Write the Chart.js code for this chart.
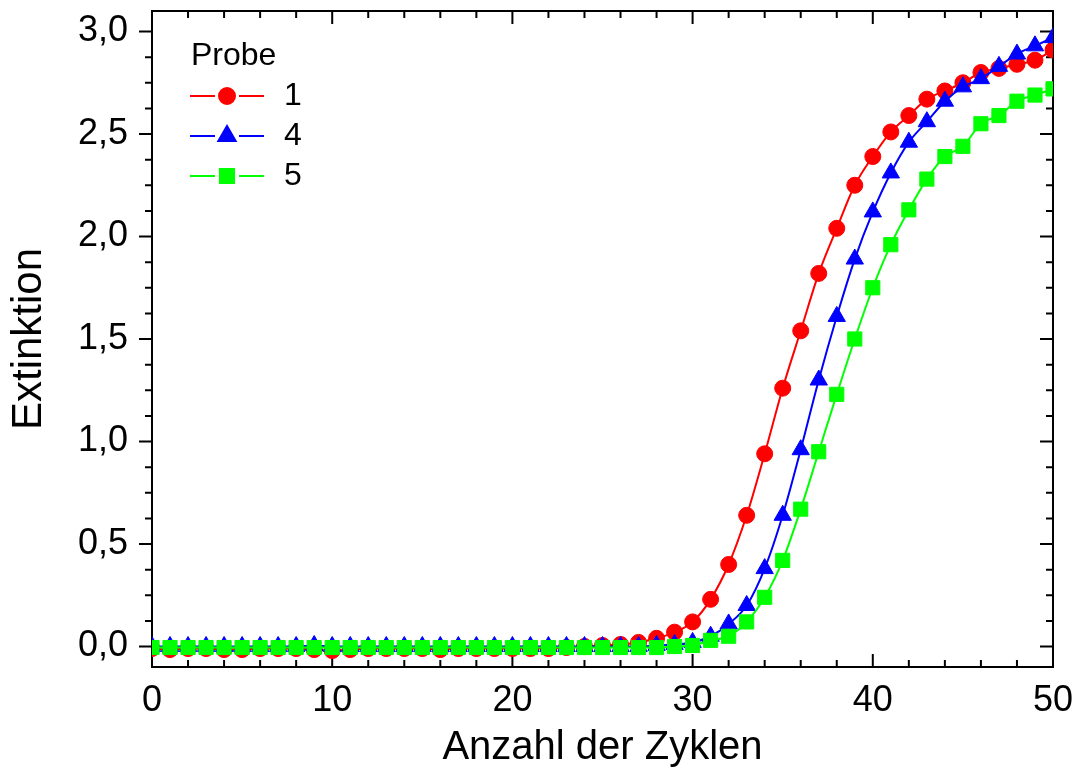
<!DOCTYPE html>
<html>
<head>
<meta charset="utf-8">
<script src="https://cdn.jsdelivr.net/npm/chart.js@4.4.0/dist/chart.umd.min.js"></script>
<style>
  body { margin: 0; background: #fff; }
  canvas { display: block; }
</style>
</head>
<body>
<canvas id="chart" width="1079" height="774"></canvas>
<script>
// Daten
const zyklen = [0, 1, 2, 3, 4, 5, 6, 7, 8, 9, 10, 11, 12, 13, 14, 15, 16, 17, 18, 19, 20,
  21, 22, 23, 24, 25, 26, 27, 28, 29, 30, 31, 32, 33, 34, 35, 36, 37, 38, 39, 40,
  41, 42, 43, 44, 45, 46, 47, 48, 49, 50];

const probe1 = [-0.01, -0.015, -0.01, -0.01, -0.015, -0.015, -0.01, -0.01, -0.01, -0.015, -0.02,
  -0.015, -0.01, -0.01, -0.01, -0.01, -0.015, -0.01, -0.01, -0.01, -0.01,
  -0.01, -0.01, -0.005, 0.0, 0.005, 0.01, 0.02, 0.04, 0.07, 0.12,
  0.23, 0.40, 0.64, 0.94, 1.26, 1.54, 1.82, 2.04, 2.25, 2.39,
  2.51, 2.59, 2.67, 2.71, 2.75, 2.80, 2.82, 2.84, 2.86, 2.91];

const probe4 = [0.0, 0.0, 0.0, 0.0, 0.0, 0.0, 0.0, 0.0, 0.0, 0.005, 0.0,
  0.0, 0.0, 0.0, 0.0, 0.0, 0.0, 0.0, 0.0, 0.0, 0.0,
  0.0, 0.0, 0.0, 0.0, 0.0, 0.0, 0.0, 0.005, 0.01, 0.02,
  0.05, 0.11, 0.20, 0.38, 0.64, 0.96, 1.30, 1.61, 1.89, 2.12,
  2.31, 2.46, 2.56, 2.66, 2.73, 2.77, 2.83, 2.89, 2.93, 2.97];

const probe5 = [-0.005, -0.005, -0.005, -0.005, -0.005, -0.005, -0.005, -0.005, -0.005, -0.005, -0.005,
  -0.005, -0.005, -0.005, -0.005, -0.005, -0.005, -0.005, -0.005, -0.005, -0.005,
  -0.005, -0.005, -0.005, -0.005, -0.005, -0.005, -0.005, -0.005, 0.0, 0.005,
  0.03, 0.05, 0.12, 0.24, 0.42, 0.67, 0.95, 1.23, 1.50, 1.75,
  1.96, 2.13, 2.28, 2.39, 2.44, 2.55, 2.59, 2.66, 2.69, 2.72];

const xTicks = [0, 10, 20, 30, 40, 50];
const yTicks = [0, 0.5, 1.0, 1.5, 2.0, 2.5, 3.0];

const FONT = '"Liberation Sans", Arial, sans-serif';

function punkte(werte) {
  return zyklen.map((z, i) => ({ x: z, y: werte[i] }));
}

// Rahmen + Ticks (links nach außen, sonst nach innen)
const rahmen = {
  id: 'rahmen',
  beforeDatasetsDraw(chart) {
    const { ctx, chartArea: a, scales: { x, y } } = chart;
    ctx.save();
    ctx.strokeStyle = '#000';
    ctx.lineWidth = 2;
    ctx.strokeRect(a.left, a.top, a.right - a.left, a.bottom - a.top);
    ctx.beginPath();
    const tickX = (v, len) => {
      const px = x.getPixelForValue(v);
      ctx.moveTo(px, a.bottom); ctx.lineTo(px, a.bottom - len);
      ctx.moveTo(px, a.top); ctx.lineTo(px, a.top + len);
    };
    const tickY = (v, len) => {
      const py = y.getPixelForValue(v);
      ctx.moveTo(a.left, py); ctx.lineTo(a.left - len, py);
      ctx.moveTo(a.right, py); ctx.lineTo(a.right - len, py);
    };
    xTicks.forEach((v, i) => {
      tickX(v, 13);
      if (i < xTicks.length - 1) {
        const step = (xTicks[i + 1] - v) / 5;
        for (let k = 1; k < 5; k++) tickX(v + k * step, 7);
      }
    });
    yTicks.forEach((v, i) => {
      tickY(v, 13);
      if (i < yTicks.length - 1) {
        const step = (yTicks[i + 1] - v) / 4;
        for (let k = 1; k < 4; k++) tickY(v + k * step, 7);
      }
    });
    ctx.stroke();
    ctx.restore();
  }
};

// Legende oben links im Diagramm
const legende = {
  id: 'legende',
  afterDraw(chart) {
    const { ctx } = chart;
    ctx.save();
    ctx.fillStyle = '#000';
    ctx.font = '32px ' + FONT;
    ctx.textBaseline = 'middle';
    ctx.textAlign = 'left';
    ctx.fillText('Probe', 191, 56);
    const namen = ['1', '4', '5'];
    const ys = [96, 136, 176];
    [0, 1, 2].forEach(i => {
      const ds = chart.data.datasets[i];
      const yy = ys[i];
      ctx.strokeStyle = ds.borderColor;
      ctx.lineWidth = 2;
      ctx.beginPath();
      ctx.moveTo(190, yy); ctx.lineTo(215, yy);
      ctx.moveTo(239, yy); ctx.lineTo(264, yy);
      ctx.stroke();
      ctx.fillStyle = ds.pointBackgroundColor;
      ctx.strokeStyle = ds.pointBackgroundColor;
      Chart.helpers.drawPoint(ctx, {
        pointStyle: ds.pointStyle, radius: ds.pointRadius, rotation: 0, borderWidth: 1
      }, 227, yy);
      ctx.fillStyle = '#000';
      ctx.fillText(namen[i], 284, yy);
    });
    ctx.restore();
  }
};

new Chart(document.getElementById('chart'), {
  type: 'line',
  data: {
    datasets: [
      {
        label: '1', data: punkte(probe1), order: 2,
        borderColor: '#ff0000', backgroundColor: '#ff0000',
        pointBackgroundColor: '#ff0000', pointBorderColor: '#ff0000',
        pointStyle: 'circle', pointRadius: 8, pointBorderWidth: 1,
        borderWidth: 2, cubicInterpolationMode: 'monotone', clip: 0
      },
      {
        label: '4', data: punkte(probe4), order: 1,
        borderColor: '#0000ff', backgroundColor: '#0000ff',
        pointBackgroundColor: '#0000ff', pointBorderColor: '#0000ff',
        pointStyle: 'triangle', pointRadius: 10, pointBorderWidth: 1,
        borderWidth: 2, cubicInterpolationMode: 'monotone', clip: 0
      },
      {
        label: '5', data: punkte(probe5), order: 0,
        borderColor: '#00ff00', backgroundColor: '#00ff00',
        pointBackgroundColor: '#00ff00', pointBorderColor: '#00ff00',
        pointStyle: 'rect', pointRadius: 10, pointBorderWidth: 1,
        borderWidth: 2, cubicInterpolationMode: 'monotone', clip: 0
      }
    ]
  },
  options: {
    responsive: false,
    animation: false,
    layout: { padding: { left: 0, right: 26, top: 8, bottom: 0 } },
    plugins: {
      legend: { display: false },
      tooltip: { enabled: false }
    },
    scales: {
      x: {
        type: 'linear', min: 0, max: 50,
        grid: { display: false, drawTicks: false },
        border: { display: false },
        afterBuildTicks: (s) => { s.ticks = xTicks.map(v => ({ value: v })); },
        afterFit: (s) => { s.height = 107; s.paddingLeft = 0; s.paddingRight = 0; },
        ticks: {
          color: '#000', padding: 12, maxRotation: 0,
          font: { family: FONT, size: 36 }
        },
        title: {
          display: true, text: 'Anzahl der Zyklen', color: '#000',
          font: { family: FONT, size: 40 }, padding: { top: 0, bottom: 2 }
        }
      },
      y: {
        type: 'linear', min: -0.1, max: 3.1,
        grid: { display: false, drawTicks: false },
        border: { display: false },
        afterBuildTicks: (s) => { s.ticks = yTicks.map(v => ({ value: v })); },
        afterFit: (s) => { s.width = 152; s.paddingTop = 0; s.paddingBottom = 0; },
        ticks: {
          color: '#000', padding: 24,
          font: { family: FONT, size: 36 },
          callback: (v) => v.toFixed(1).replace('.', ',')
        },
        title: {
          display: true, text: 'Extinktion', color: '#000',
          font: { family: FONT, size: 42 }, padding: { top: 4, bottom: 0 }
        }
      }
    }
  },
  plugins: [rahmen, legende]
});
</script>
</body>
</html>
